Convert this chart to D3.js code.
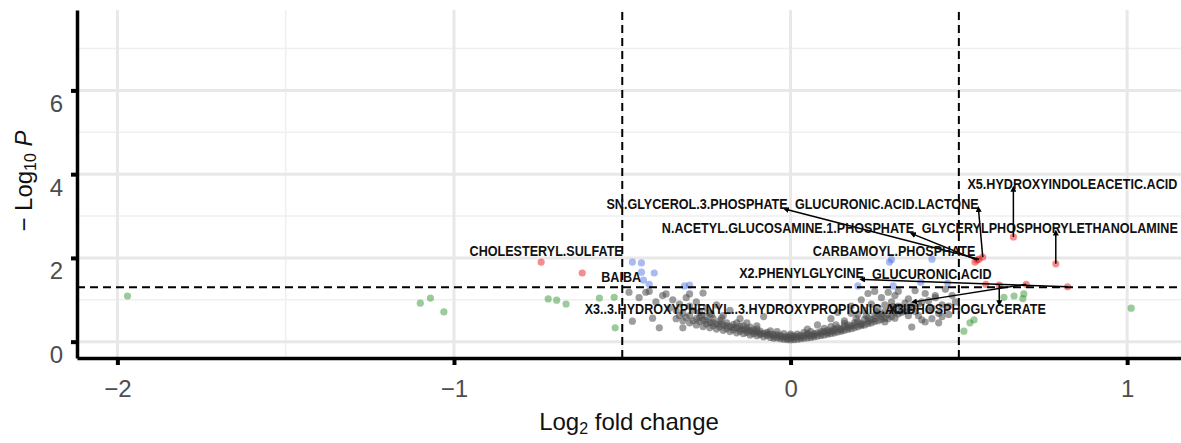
<!DOCTYPE html>
<html>
<head>
<meta charset="utf-8">
<script src="https://cdn.jsdelivr.net/npm/d3@7"></script>
<style>
body { margin: 0; background: #fff; }
</style>
</head>
<body>
<svg width="1181" height="443"></svg>
<script>
// labelled metabolites (pass both cutoffs)
var labelNames = ["CHOLESTERYL.SULFATE", "BAIBA", "SN.GLYCEROL.3.PHOSPHATE", "GLUCURONIC.ACID.LACTONE",
  "N.ACETYL.GLUCOSAMINE.1.PHOSPHATE", "CARBAMOYL.PHOSPHATE", "X5.HYDROXYINDOLEACETIC.ACID",
  "GLYCERYLPHOSPHORYLETHANOLAMINE", "X2.PHENYLGLYCINE", "GLUCURONIC.ACID",
  "X3..3.HYDROXYPHENYL..3.HYDROXYPROPIONIC.ACID", "X3.PHOSPHOGLYCERATE"];
var labelFC = [-0.741, -0.619, 0.560, 0.571, 0.554, 0.548, 0.662, 0.788, 0.823, 0.580, 0.700, 0.620];
var labelP  = [1.90, 1.64, 1.97, 2.02, 1.95, 1.90, 2.50, 1.86, 1.31, 1.37, 1.37, 1.35];

// Log2 FC only (green)
var fcOnly = [[-1.97,1.09],[-1.10,0.92],[-1.07,1.04],[-1.03,0.71],[-0.72,1.02],[-0.695,0.99],[-0.667,0.90],
  [-0.568,1.04],[-0.524,1.06],[-0.521,0.33],[0.515,0.25],[0.533,0.45],[0.545,0.52],[0.634,1.06],
  [0.664,1.09],[0.693,1.14],[0.690,1.03],[1.012,0.80]];

// p-value only (blue)
var pOnly = [[-0.47,1.90],[-0.443,1.88],[-0.443,1.66],[-0.405,1.64],[-0.437,1.47],[-0.42,1.37],
  [-0.315,1.33],[-0.30,1.35],[0.294,1.90],[0.30,1.96],[0.42,1.97],[0.20,1.33],[0.305,1.33],
  [0.387,1.42],[0.467,1.40]];

// not significant (grey)
var nsPts = [
  [-0.34,0.55],[-0.34,0.75],[-0.32,0.50],[-0.32,0.68],[-0.30,0.45],[-0.30,0.62],[-0.30,0.85],
  [-0.28,0.40],[-0.28,0.55],[-0.27,0.48],[-0.27,0.70],[-0.26,0.36],[-0.26,0.52],[-0.25,0.42],
  [-0.25,0.60],[-0.24,0.33],[-0.24,0.46],[-0.23,0.38],[-0.23,0.55],[-0.22,0.30],[-0.22,0.42],
  [-0.21,0.35],[-0.21,0.50],[-0.20,0.27],[-0.20,0.40],[-0.19,0.31],[-0.19,0.45],[-0.18,0.24],
  [-0.18,0.36],[-0.17,0.28],[-0.17,0.41],[-0.16,0.21],[-0.16,0.33],[-0.15,0.25],[-0.15,0.37],
  [-0.14,0.19],[-0.14,0.29],[-0.13,0.22],[-0.13,0.32],[-0.12,0.16],[-0.12,0.26],[-0.11,0.19],
  [-0.11,0.28],[-0.10,0.14],[-0.10,0.23],[-0.09,0.17],[-0.09,0.25],[-0.08,0.12],[-0.08,0.20],
  [-0.07,0.15],[-0.07,0.22],[-0.06,0.10],[-0.06,0.18],[-0.05,0.13],[-0.05,0.08],[-0.04,0.09],
  [-0.04,0.16],[-0.03,0.07],[-0.03,0.12],[-0.02,0.06],[-0.02,0.11],[-0.01,0.05],[-0.01,0.09],
  [0.00,0.04],[0.00,0.08],[0.01,0.05],[0.01,0.10],[0.02,0.06],[0.02,0.12],[0.03,0.07],[0.03,0.11],
  [0.04,0.08],[0.04,0.14],[0.05,0.09],[0.05,0.16],[0.06,0.10],[0.06,0.15],[0.07,0.12],[0.07,0.19],
  [0.08,0.13],[0.08,0.21],[0.09,0.15],[0.09,0.20],[0.10,0.16],[0.10,0.24],[0.11,0.18],[0.11,0.27],
  [0.12,0.19],[0.12,0.25],[0.13,0.21],[0.13,0.30],[0.14,0.23],[0.14,0.33],[0.15,0.25],[0.15,0.31],
  [0.16,0.27],[0.16,0.37],[0.17,0.29],[0.17,0.40],[0.18,0.31],[0.18,0.38],[0.19,0.33],[0.19,0.45],
  [0.20,0.36],[0.20,0.48],[0.21,0.38],[0.21,0.44],[0.22,0.40],[0.22,0.53],[0.23,0.43],[0.23,0.57],
  [0.24,0.45],[0.24,0.52],[0.25,0.48],[0.25,0.62],[0.26,0.50],[0.26,0.66],[0.27,0.53],[0.27,0.60],
  [0.28,0.56],[0.28,0.72],[0.30,0.60],[0.30,0.78],[0.32,0.66],[0.32,0.85],[0.34,0.72],[0.34,0.92],
  [-0.33,0.62],[-0.31,0.58],[-0.29,0.50],[-0.27,0.58],[-0.25,0.50],[-0.23,0.45],[-0.21,0.42],
  [-0.19,0.38],[-0.17,0.34],[-0.15,0.30],[-0.13,0.27],[-0.11,0.23],[-0.09,0.20],[-0.07,0.18],
  [-0.05,0.17],[-0.03,0.15],[-0.01,0.13],[0.01,0.14],[0.03,0.15],[0.05,0.19],[0.07,0.16],[0.09,0.24],
  [0.11,0.22],[0.13,0.26],[0.15,0.28],[0.17,0.34],[0.19,0.39],[0.21,0.41],[0.23,0.48],[0.25,0.55],
  [0.27,0.66],[0.29,0.65],[0.29,0.55],[0.31,0.70],[0.33,0.78],[0.35,0.80],[0.35,0.62],[0.37,0.72],
  [0.38,0.90],[0.39,0.52],[0.41,0.98],[0.42,0.80],[0.45,0.60],[0.47,0.85],[-0.06,0.26],[-0.02,0.19],
  [0.02,0.18],[0.06,0.24],[-0.16,0.45],[-0.12,0.35],[0.135,0.40],[0.16,0.44],[0.195,0.55],[0.225,0.62],
  [0.255,0.72],[0.305,0.84],[-0.205,0.56],[-0.235,0.64],[-0.265,0.62],[-0.10,0.30],[-0.04,0.24],
  [0.00,0.14],[0.00,0.18],[0.04,0.22],[0.10,0.32],[0.12,0.36],[-0.14,0.38],
  [-0.48,1.18],[-0.47,0.49],[-0.45,1.05],[-0.43,1.18],[-0.42,1.20],[-0.41,0.56],[-0.40,0.95],
  [-0.39,0.33],[-0.38,1.10],[-0.37,1.14],[-0.36,0.80],[-0.35,1.00],[-0.33,0.90],[-0.32,0.33],
  [-0.31,1.05],[-0.30,1.14],[-0.29,0.75],[-0.28,0.95],[-0.26,1.16],[-0.25,0.80],[-0.24,0.68],
  [-0.22,0.88],[-0.20,0.62],[-0.18,0.75],[-0.15,0.55],[-0.13,0.45],[-0.10,0.38],[-0.08,0.60],
  [0.05,0.30],[0.08,0.40],[0.12,0.55],[0.14,0.70],[0.16,0.50],[0.18,0.85],[0.18,0.68],[0.20,0.65],
  [0.21,1.00],[0.22,0.75],[0.23,1.15],[0.24,0.90],[0.25,1.20],[0.26,0.80],[0.27,1.05],[0.28,0.88],
  [0.28,0.47],[0.29,1.18],[0.30,0.95],[0.31,1.10],[0.31,0.56],[0.32,1.20],[0.33,0.70],[0.35,1.02],
  [0.36,0.85],[0.36,0.35],[0.37,1.22],[0.38,0.62],[0.39,0.95],[0.40,1.15],[0.40,0.47],[0.41,0.75],
  [0.42,0.55],[0.43,1.05],[0.43,1.10],[0.44,0.45],[0.44,0.68],[0.45,0.88],[0.46,1.25],[0.47,0.65],
  [0.48,1.10],[0.49,0.95]];

var xTicks = [-2, -1, 0, 1];
var yTicks = [0, 2, 4, 6];
var fcCut = 0.5, pCut = 1.30103;

// label placement relative to its point (px), like ggrepel would leave it
var labelNudge = {
  "CHOLESTERYL.SULFATE": [5, -12],
  "BAIBA": [39, 4],
  "SN.GLYCEROL.3.PHOSPHATE": [-282, -56],
  "GLUCURONIC.ACID.LACTONE": [-96, -53],
  "N.ACETYL.GLUCOSAMINE.1.PHOSPHATE": [-189, -32],
  "CARBAMOYL.PHOSPHATE": [-81, -12],
  "X5.HYDROXYINDOLEACETIC.ACID": [59, -53],
  "GLYCERYLPHOSPHORYLETHANOLAMINE": [-6, -36],
  "X2.PHENYLGLYCINE": [-266, -14],
  "GLUCURONIC.ACID": [-54, -11],
  "X3..3.HYDROXYPHENYL..3.HYDROXYPROPIONIC.ACID": [-276, 24],
  "X3.PHOSPHOGLYCERATE": [-32, 23]
};
var noConnector = ["CHOLESTERYL.SULFATE", "BAIBA", "CARBAMOYL.PHOSPHATE", "GLUCURONIC.ACID"];

var svg = d3.select("svg");
var margin = {left: 77, right: 0, top: 10, bottom: 85};
var width = 1181, height = 443;

var x = d3.scaleLinear().domain([-2.12, 1.16]).range([margin.left, width - margin.right]);
var y = d3.scaleLinear().domain([-0.39, 7.92]).range([height - margin.bottom, margin.top]);

// grid
var grid = svg.append("g");
[-1.5, -0.5, 0.5].forEach(function(v) {
  grid.append("line").attr("x1", x(v)).attr("x2", x(v)).attr("y1", y.range()[0]).attr("y2", y.range()[1])
    .attr("stroke", "#efefef").attr("stroke-width", 1.5);
});
[1, 3, 5, 7].forEach(function(v) {
  grid.append("line").attr("x1", x.range()[0]).attr("x2", x.range()[1]).attr("y1", y(v)).attr("y2", y(v))
    .attr("stroke", "#efefef").attr("stroke-width", 1.5);
});
xTicks.forEach(function(v) {
  grid.append("line").attr("x1", x(v)).attr("x2", x(v)).attr("y1", y.range()[0]).attr("y2", y.range()[1])
    .attr("stroke", "#e8e8e8").attr("stroke-width", 3);
});
yTicks.forEach(function(v) {
  grid.append("line").attr("x1", x.range()[0]).attr("x2", x.range()[1]).attr("y1", y(v)).attr("y2", y(v))
    .attr("stroke", "#e8e8e8").attr("stroke-width", 3);
});

// points
var pts = [];
nsPts.forEach(function(d) { pts.push({fc: d[0], p: d[1], col: "#4d4d4d"}); });
fcOnly.forEach(function(d) { pts.push({fc: d[0], p: d[1], col: "#228b22"}); });
pOnly.forEach(function(d) { pts.push({fc: d[0], p: d[1], col: "#4169e1"}); });
labelNames.forEach(function(n, i) { pts.push({fc: labelFC[i], p: labelP[i], col: "#ee0000", name: n}); });

svg.append("g").selectAll("circle")
  .data(pts)
  .enter().append("circle")
  .attr("cx", function(d) { return x(d.fc); })
  .attr("cy", function(d) { return y(d.p); })
  .attr("r", 3.6)
  .attr("fill", function(d) { return d.col; })
  .attr("fill-opacity", function(d) { return d.col == "#4d4d4d" ? 0.55 : 0.45; });

// cutoff lines
var cut = svg.append("g").attr("stroke", "#000").attr("stroke-width", 2).attr("stroke-dasharray", "8,5");
[-fcCut, fcCut].forEach(function(v) {
  cut.append("line").attr("x1", x(v)).attr("x2", x(v)).attr("y1", y.range()[0]).attr("y2", y.range()[1]);
});
cut.append("line").attr("x1", x.range()[0]).attr("x2", x.range()[1]).attr("y1", y(pCut)).attr("y2", y(pCut));

// axes
var gx = svg.append("g").attr("transform", "translate(0," + y.range()[0] + ")")
  .call(d3.axisBottom(x).tickValues(xTicks).tickSize(7).tickSizeOuter(0).tickFormat(d3.format("d")));
var gy = svg.append("g").attr("transform", "translate(" + x.range()[0] + ",0)")
  .call(d3.axisLeft(y).tickValues(yTicks).tickSize(6).tickSizeOuter(0).tickFormat(d3.format("d")));

[gx, gy].forEach(function(g) {
  g.select(".domain").attr("stroke", "#000").attr("stroke-width", 3.5);
  g.selectAll(".tick line").attr("stroke", "#000").attr("stroke-width", 4);
  g.selectAll(".tick text").attr("fill", "#4d4d4d")
    .style("font-family", "'Liberation Sans', Arial, sans-serif").style("font-size", "24px");
});
gx.selectAll(".tick text").attr("dy", null).attr("y", 39);
gy.selectAll(".tick text").attr("dy", null).attr("x", -14).attr("y", 21);

// axis titles
var xt = svg.append("text").attr("x", (x.range()[0] + x.range()[1]) / 2).attr("y", 430)
  .attr("text-anchor", "middle")
  .style("font-family", "'Liberation Sans', Arial, sans-serif").style("font-size", "24px").attr("fill", "#111");
xt.append("tspan").text("Log");
xt.append("tspan").attr("baseline-shift", "-25%").style("font-size", "16px").text("2");
xt.append("tspan").text(" fold change");

var yt = svg.append("text").attr("transform", "translate(32," + ((y.range()[0] + y.range()[1]) / 2 - 3) + ") rotate(-90)")
  .attr("text-anchor", "middle")
  .style("font-family", "'Liberation Sans', Arial, sans-serif").style("font-size", "24px").attr("fill", "#111");
yt.append("tspan").text("\u2212 Log");
yt.append("tspan").attr("baseline-shift", "-25%").style("font-size", "16px").text("10");
yt.append("tspan").text(" ");
yt.append("tspan").style("font-style", "italic").text("P");

// labels with connectors
svg.append("defs").append("marker")
  .attr("id", "arr").attr("viewBox", "0 0 10 10").attr("refX", 2).attr("refY", 5)
  .attr("markerWidth", 4).attr("markerHeight", 4).attr("orient", "auto-start-reverse")
  .append("path").attr("d", "M0,0L10,5L0,10z").attr("fill", "#000");

var conG = svg.append("g");
var labG = svg.append("g");
var squeeze = 0.84;  // narrow bold look
pts.filter(function(d) { return d.name; }).forEach(function(d) {
  var px = x(d.fc), py = y(d.p), nd = labelNudge[d.name];
  var lx = px + nd[0], ly = py + nd[1];
  var t = labG.append("text")
    .attr("transform", "translate(" + lx + "," + ly + ") scale(" + squeeze + ",1)")
    .attr("text-anchor", "middle").attr("dy", "0.36em")
    .style("font-family", "'Liberation Sans', Arial, sans-serif")
    .style("font-weight", "bold").style("font-size", "15px").attr("fill", "#111")
    .text(d.name);
  if (noConnector.indexOf(d.name) >= 0) return;
  var b = t.node().getBBox();
  var bx0 = lx + b.x * squeeze, bx1 = lx + (b.x + b.width) * squeeze;
  var by0 = ly + b.y, by1 = ly + b.y + b.height;
  var cx = Math.max(bx0, Math.min(px, bx1));
  var cy = Math.max(by0 + 2, Math.min(py, by1 - 2));
  conG.append("line").attr("x1", cx).attr("y1", cy).attr("x2", px).attr("y2", py)
    .attr("stroke", "#000").attr("stroke-width", 1.5).attr("marker-start", "url(#arr)");
});
</script>
</body>
</html>
